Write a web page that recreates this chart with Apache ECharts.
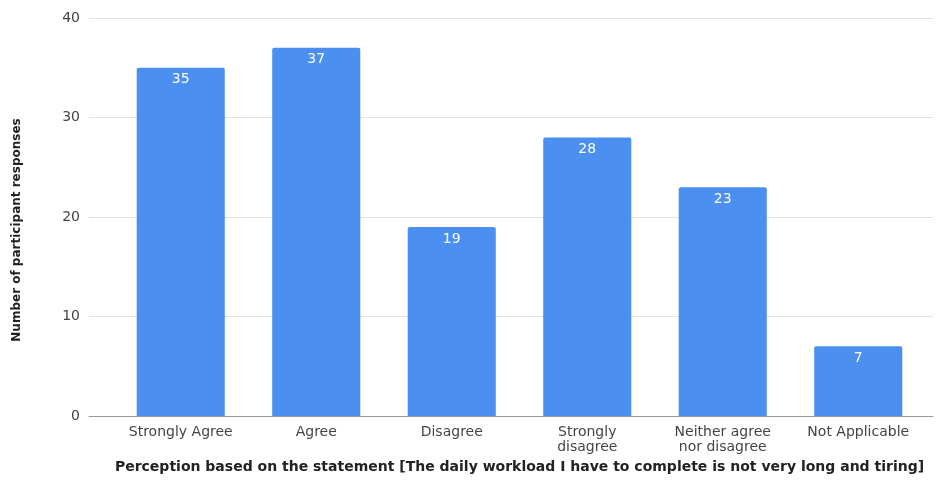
<!DOCTYPE html>
<html>
<head>
<meta charset="utf-8">
<script src="https://cdn.jsdelivr.net/npm/echarts@6/dist/echarts.min.js"></script>
<style>
  html, body { margin: 0; padding: 0; background: #fff; }
  #chart { width: 939px; height: 491px; }
</style>
</head>
<body>
<div id="chart"></div>
<script>
// Survey responses per perception category
const categories = ['Strongly Agree', 'Agree', 'Disagree', 'Strongly\ndisagree', 'Neither agree\nnor disagree', 'Not Applicable'];
const responses = [35, 37, 19, 28, 23, 7];
const yTicks = { min: 0, max: 40, interval: 10 };

const yTitle = 'Number of participant responses';
const xTitle = 'Perception based on the statement [The daily workload I have to complete is not very long and tiring]';

const chart = echarts.init(document.getElementById('chart'));
const font = '"DejaVu Sans", Verdana, sans-serif';

chart.setOption({
  animation: false,
  grid: [
    // frame: gridlines, value labels and baseline
    { left: 89, right: 6, top: 18, bottom: 75 },
    // bars, inset from the frame edges
    { left: 113, right: 13, top: 18, bottom: 75 }
  ],
  graphic: [{
    type: 'text',
    x: 17, y: 230,
    rotation: Math.PI / 2,
    style: {
      text: yTitle, fill: '#222', fontSize: 12, fontWeight: 'bold', fontFamily: font,
      align: 'center', verticalAlign: 'middle'
    }
  }],
  xAxis: [
    {
      gridIndex: 0, type: 'value', min: 0, max: 1,
      axisLine: { show: true, onZero: false, lineStyle: { color: '#999', width: 1 } },
      axisTick: { show: false }, axisLabel: { show: false }, splitLine: { show: false }
    },
    {
      gridIndex: 1, type: 'category', data: categories,
      axisLine: { show: false }, axisTick: { show: false },
      axisLabel: { color: '#444', fontSize: 14, fontFamily: font, margin: 9, lineHeight: 15, interval: 0 },
      name: xTitle, nameLocation: 'middle', nameGap: 39,
      nameTextStyle: { color: '#222', fontSize: 14, fontWeight: 'bold', fontFamily: font }
    }
  ],
  yAxis: [
    {
      gridIndex: 0, type: 'value', min: yTicks.min, max: yTicks.max, interval: yTicks.interval,
      axisLine: { show: false }, axisTick: { show: false },
      axisLabel: { color: '#444', fontSize: 14, fontFamily: font, margin: 9 },
      splitLine: { lineStyle: { color: '#e3e3e3', width: 1 } }
    },
    {
      gridIndex: 1, type: 'value', min: yTicks.min, max: yTicks.max, interval: yTicks.interval,
      show: false, splitLine: { show: false }
    }
  ],
  series: [{
    type: 'bar',
    xAxisIndex: 1, yAxisIndex: 1,
    data: responses,
    barWidth: '65%',
    itemStyle: { color: '#4b8ff0', borderRadius: [2, 2, 0, 0] },
    label: {
      show: true, position: 'insideTop', distance: 5,
      color: '#fff', fontSize: 14, fontFamily: font
    }
  }]
});
</script>
</body>
</html>
